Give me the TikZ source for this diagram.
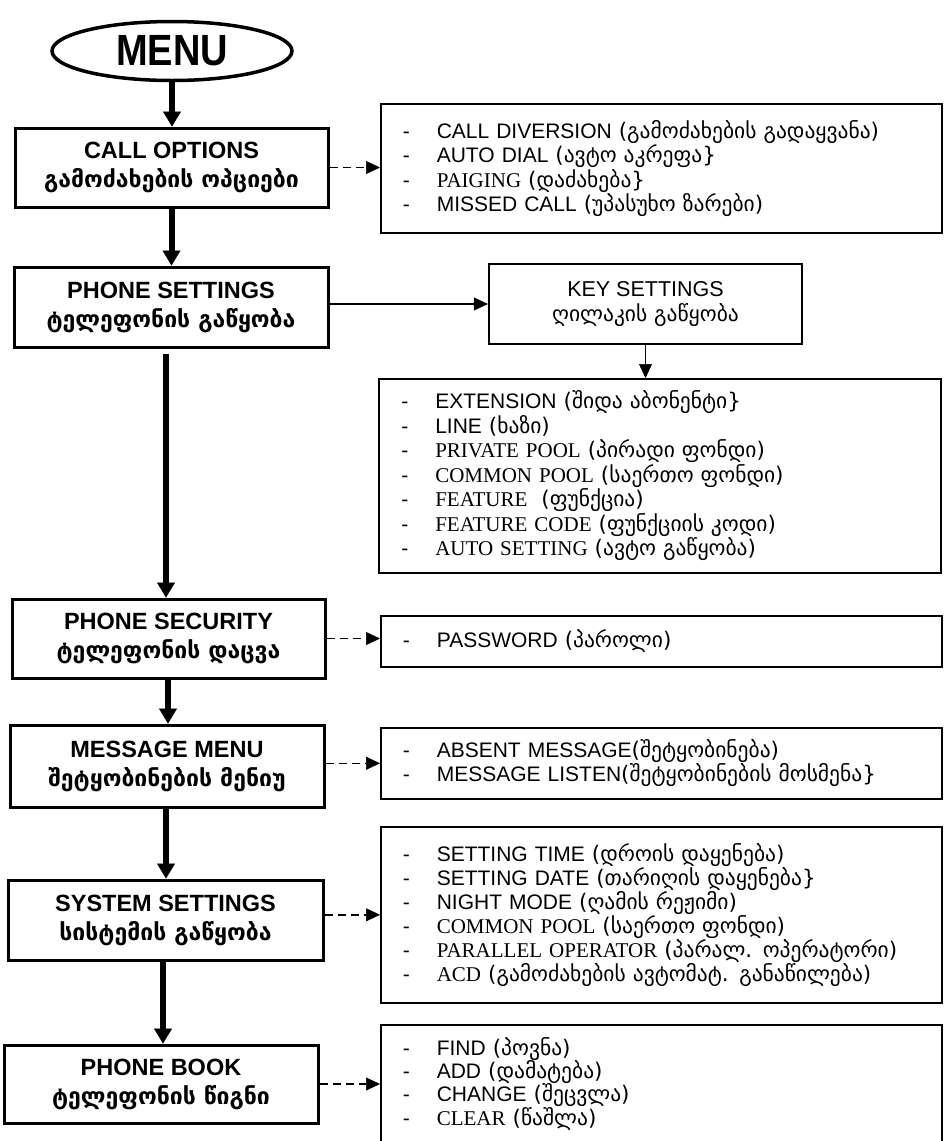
\documentclass[tikz,border=0pt]{standalone}
\usepackage{fontspec}
\setmainfont{Liberation Sans}
\newfontfamily\tms{Liberation Serif}
\newfontfamily\geo{DejaVu Sans}
\usetikzlibrary{shapes.geometric,arrows.meta}
\newcommand\gt[1]{{\geo\fontsize{23}{29}\selectfont #1}}
\newcommand\gl[1]{{\geo\fontsize{21.5}{24}\selectfont #1}}
\newcommand\dl{\makebox[34pt][l]{-}}
\begin{document}
\begin{tikzpicture}[x=1pt,y=-1pt,
  mainbox/.style={draw, line width=3pt, rectangle, minimum width=314pt, minimum height=80pt,
    align=center, inner sep=0pt, font=\fontsize{23.5}{29}\selectfont\bfseries},
  listbox/.style={draw, line width=1.6pt, rectangle, anchor=north west, align=left,
    minimum width=561pt, text width=517pt, inner xsep=22pt, inner ysep=0pt,
    font=\fontsize{21}{24.5}\selectfont},
  thickarrow/.style={line width=6pt, -{Triangle[length=15pt,width=18pt,line width=0.5pt]}},
  dasharrow/.style={line width=1.4pt, dash pattern=on 8pt off 5pt,
    -{Triangle[length=14pt,width=13pt,line width=0.5pt]}},
  thinarrow/.style={line width=1.6pt, -{Triangle[length=14pt,width=13pt,line width=0.5pt]}}
]
\useasboundingbox (0,0) rectangle (943,1141);
\fill[white] (0,0) rectangle (943,1141);

% main column
\node[ellipse, draw, line width=3.5pt, minimum width=240pt, minimum height=59pt, inner sep=0pt,
  font=\fontsize{38}{38}\selectfont\bfseries] (menu) at (172,51) {\scalebox{1}[1.15]{MENU}};
\node[mainbox, minimum width=313pt, minimum height=79pt] (callopt) at (171.5,167.5)
  {CALL OPTIONS\\\gt{გამოძახების ოპციები}};
\node[mainbox] (phoneset) at (171,307)
  {PHONE SETTINGS\\\gt{ტელეფონის გაწყობა}};
\node[mainbox, minimum width=313pt, minimum height=79pt] (phonesec) at (168.5,638.5)
  {PHONE SECURITY\\\gt{ტელეფონის დაცვა}};
\node[mainbox, minimum height=82pt] (msgmenu) at (167,766)
  {MESSAGE MENU\\\gt{შეტყობინების მენიუ}};
\node[mainbox, minimum width=315pt] (syset) at (165.5,920)
  {SYSTEM SETTINGS\\\gt{სისტემის გაწყობა}};
\node[mainbox, minimum height=78pt] (phonebook) at (161,1084)
  {PHONE BOOK\\\gt{ტელეფონის წიგნი}};

% key settings
\node[draw, line width=2.2pt, rectangle, minimum width=313pt, minimum height=80pt, align=center,
  inner sep=0pt, font=\fontsize{21.5}{25}\selectfont] (keyset) at (645.5,304)
  {KEY SETTINGS\\\gl{ღილაკის გაწყობა}};

% lists
\node[listbox, minimum height=129pt] (list1) at (380,103) {%
\dl CALL DIVERSION \gl{(გამოძახების გადაყვანა)}\\
\dl AUTO DIAL \gl{(ავტო აკრეფა\}}\\
\dl {\tms PAIGING }\gl{(დაძახება\}}\\
\dl MISSED CALL \gl{(უპასუხო ზარები)}};

\node[listbox, minimum width=562pt, minimum height=194pt] (list2) at (378,378) {%
\dl EXTENSION \gl{(შიდა აბონენტი\}}\\
\dl LINE \gl{(ხაზი)}\\
\dl {\tms PRIVATE POOL }\gl{(პირადი ფონდი)}\\
\dl {\tms COMMON POOL }\gl{(საერთო ფონდი)}\\
\dl {\tms FEATURE\ \ }\gl{(ფუნქცია)}\\
\dl {\tms FEATURE CODE }\gl{(ფუნქციის კოდი)}\\
\dl {\tms AUTO SETTING }\gl{(ავტო გაწყობა)}};

\node[listbox, minimum height=51pt] (pw) at (380,615) {%
\dl PASSWORD \gl{(პაროლი)}};

\node[listbox, minimum height=71pt, font=\fontsize{21}{23}\selectfont] (msg) at (380,727) {%
\dl ABSENT MESSAGE\gl{(შეტყობინება)}\\
\dl MESSAGE LISTEN\gl{(შეტყობინების მოსმენა\}}};

\node[listbox, minimum height=176pt, font=\fontsize{21}{24}\selectfont] (sys) at (380,826) {%
\dl SETTING TIME \gl{(დროის დაყენება)}\\
\dl SETTING DATE \gl{(თარიღის დაყენება\}}\\
\dl NIGHT MODE \gl{(ღამის რეჟიმი)}\\
\dl {\tms COMMON POOL }\gl{(საერთო ფონდი)}\\
\dl {\tms PARALLEL OPERATOR }\gl{(პარალ. ოპერატორი)}\\
\dl {\tms ACD }\gl{(გამოძახების ავტომატ. განაწილება)}};

\node[listbox, minimum height=118pt, font=\fontsize{21}{23.3}\selectfont] (pb) at (380,1024) {%
\dl FIND \gl{(პოვნა)}\\
\dl ADD \gl{(დამატება)}\\
\dl CHANGE \gl{(შეცვლა)}\\
\dl {\tms CLEAR }\gl{(წაშლა)}};

% main flow
\draw[thickarrow] (menu.south) -- (menu.south |- callopt.north);
\draw[thickarrow] (callopt.south) -- (callopt.south |- phoneset.north);
\draw[thickarrow] ([xshift=-5pt,yshift=-5pt]phoneset.south) -- ([xshift=-2.5pt]phonesec.north);
\draw[thickarrow] ([xshift=-0.5pt]phonesec.south) -- ([xshift=1pt]msgmenu.north);
\draw[thickarrow] ([xshift=-1pt]msgmenu.south) -- ([xshift=0.5pt]syset.north);
\draw[thickarrow] ([xshift=-2.5pt]syset.south) -- ([xshift=2pt]phonebook.north);

% side connectors
\draw[dasharrow] (callopt.east) -- (callopt.east -| list1.west);
\draw[thinarrow] (phoneset.east |- keyset.west) -- (keyset.west);
\draw[thinarrow] (keyset.south) -- (keyset.south |- list2.north);
\draw[dasharrow] (phonesec.east) -- (phonesec.east -| pw.west);
\draw[dasharrow] (msgmenu.east |- msg.west) -- (msg.west);
\draw[dasharrow] (syset.east |- sys.west) -- (sys.west);
\draw[dasharrow] (phonebook.east) -- (phonebook.east -| pb.west);
\end{tikzpicture}
\end{document}
